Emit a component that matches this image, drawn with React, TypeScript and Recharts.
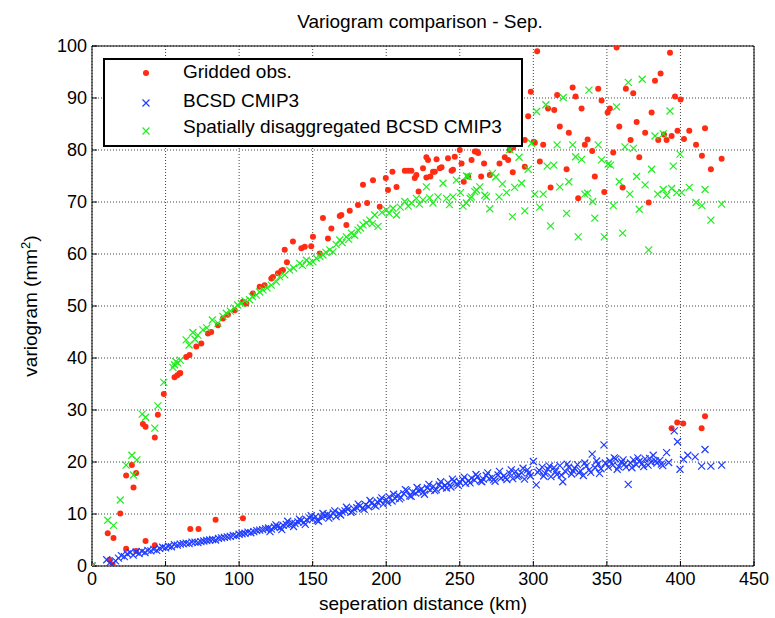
import React from "react";
import { ScatterChart, Scatter, XAxis, YAxis, CartesianGrid, Legend, Label } from "recharts";

const title = "Variogram comparison - Sep.";
const xLabel = "seperation distance (km)";
const yLabel = "variogram (mm";
const xTicks = [0, 50, 100, 150, 200, 250, 300, 350, 400, 450];
const yTicks = [0, 10, 20, 30, 40, 50, 60, 70, 80, 90, 100];
const seriesNames = ["Gridded obs.", "BCSD CMIP3", "Spatially disaggregated BCSD CMIP3"];

const obsPoints: number[][] = [
  [0, 0], [10.7, 6.3], [11.9, 1.2], [14, 0.3], [14.6, 5.4], [19.2, 10.1], [23.2, 17.4], [23.2, 3.3], [27.1, 19.4], [28.2, 15.1],
  [30, 17.9], [30, 2.9], [34.6, 27.3], [36.4, 26.8], [36.4, 4.8], [42.7, 24.7], [42.7, 4.0], [44.8, 29.1], [48.8, 33.1], [56.1, 36.3],
  [58, 36.7], [59.5, 37], [60, 37.1], [64, 40.2], [66.3, 40.6], [66.8, 7.1], [70.9, 42.2], [72.4, 7.1], [74.3, 42.8], [78.8, 44.7],
  [81, 45], [84, 8.9], [85.6, 46.3], [89, 47.6], [92.4, 48.3], [97, 49.2], [102.6, 50.8], [102.6, 9.2], [104.9, 50.5], [109.4, 52.4],
  [114, 53.7], [117.3, 54], [121.9, 55.3], [123, 55.6], [126.4, 56.3], [128.7, 56.8], [129.8, 56.9], [131, 60.8], [132.5, 58.4], [136.6, 62.4],
  [142.3, 61.1], [144.6, 61.4], [149, 61.5], [150.2, 63.3], [154.8, 60.1], [157, 66.9], [160.4, 63], [162.7, 64.9], [168.4, 67.3], [169.5, 67.5],
  [172.9, 65.6], [175.2, 68.3], [180.8, 69.4], [184.2, 73.3], [187, 69.8], [191, 74.2], [195.6, 69.1], [199.7, 74.6], [201.2, 72.3], [204.2, 75.8],
  [207, 72.9], [212.6, 76], [214.9, 76], [217.1, 76], [219.4, 74.6], [220.5, 75.2], [222, 72], [225, 76.5], [227.3, 74.7], [227.3, 78.6],
  [228.4, 78.1], [230, 74.9], [231.8, 75.8], [233, 75.8], [234.2, 78.2], [236.4, 76.5], [237.6, 76.7], [242, 78.4], [244.4, 76], [245.4, 76.2],
  [246.6, 78.7], [250, 80], [251.2, 77.4], [252.7, 73.9], [255.7, 74.9], [258, 78.1], [260.2, 79.7], [261.4, 79.7], [262.5, 79.4], [264.5, 74.9],
  [266.5, 77.4], [270.4, 75.2], [277, 77.4], [280.6, 78.6], [282.9, 78.1], [284, 80], [286, 75.7], [286.2, 80.5], [294.2, 81.9], [294.2, 76.8],
  [296.5, 86.5], [298.3, 91.2], [300.3, 81.6], [301, 81.4], [302.6, 99], [304.4, 77.8], [306.7, 81], [310, 88], [311.7, 72.8], [314.2, 87.7],
  [316.2, 90.6], [318, 84.5], [322.6, 76.3], [324.1, 83.3], [326.7, 92], [328.7, 90.3], [330.5, 70.7], [332.8, 88], [335, 81], [336.9, 82],
  [340, 79.8], [341.8, 74.9], [344.1, 91.8], [346.4, 89.5], [348.2, 71.9], [350.5, 87.2], [352, 88], [354.3, 79.5], [356.6, 99.7], [358.4, 84.5],
  [360.7, 72.8], [362.9, 91.8], [366.1, 81.9], [367.9, 90.9], [370.2, 85.4], [372, 78.6], [376, 83.3], [378.4, 69.9], [380.4, 87.2], [382.7, 93.3],
  [384.9, 81.9], [386.5, 94.7], [388.8, 83], [390.6, 81.9], [392.9, 98.7], [394, 82.7], [394, 26.5], [396.3, 90.3], [397.8, 27.6], [398, 83.7],
  [400.1, 89.7], [401.9, 27.4], [402.4, 82.1], [406, 83.7], [410.6, 81], [414.4, 26.5], [414.6, 78.9], [416.7, 84.2], [416.7, 28.8], [420.7, 76.3],
  [428, 78.3],
];

const bcsdPoints: number[][] = [
  [0, 0], [10, 1.2], [12, 0.6], [14, 0.3], [16, 1.0], [18, 1.5], [20, 2.0], [22, 1.8], [24, 2.3], [26, 2.6],
  [28, 2.1], [30, 2.7], [32, 2.4], [34, 2.8], [36, 2.6], [38, 3.0], [40, 2.9], [42, 3.2], [44, 3.0], [46, 3.4],
  [48, 3.6], [50, 3.5], [52, 3.8], [54, 3.7], [56, 4.1], [58, 4.0], [60, 4.2], [62, 4.3], [64, 4.4], [66, 4.3],
  [68, 4.6], [70, 4.6], [72, 4.5], [74, 4.7], [76, 4.8], [78, 4.9], [80, 5.0], [82, 5.1], [84, 5.0], [86, 5.3],
  [88, 5.4], [90, 5.5], [92, 5.6], [94, 5.7], [96, 5.9], [98, 5.8], [100, 6.1], [102, 6.2], [104, 6.3], [106, 6.5],
  [108, 6.4], [110, 6.6], [112, 6.8], [114, 6.9], [116, 7.0], [118, 7.2], [120, 7.3], [122, 7.1], [124, 7.5], [126, 7.6],
  [128, 7.4], [130, 7.8], [132, 8.0], [134, 7.9], [136, 8.3], [138, 8.2], [140, 8.5], [142, 8.7], [144, 8.4], [146, 8.9],
  [148, 9.2], [150, 9.0], [152, 9.5], [154, 8.6], [156, 9.4], [158, 9.6], [160, 9.9], [162, 9.7], [164, 10.2], [166, 9.5],
  [168, 10.1], [170, 10.4], [172, 10.6], [174, 10.9], [176, 10.3], [178, 11.0], [180, 11.2], [182, 11.5], [184, 11.1], [186, 11.8],
  [188, 11.4], [190, 12.1], [192, 11.7], [194, 12.3], [196, 12.6], [198, 11.9], [200, 12.8], [202, 13.3], [204, 12.5], [206, 13.0],
  [208, 13.6], [210, 13.2], [212, 13.9], [214, 14.5], [216, 13.5], [218, 14.2], [220, 14.0], [222, 14.4], [224, 14.8], [226, 13.8],
  [228, 15.0], [230, 14.6], [232, 15.3], [234, 14.7], [236, 15.6], [238, 15.1], [240, 15.5], [242, 16.0], [244, 15.2], [246, 16.3],
  [248, 15.8], [250, 16.1], [252, 16.6], [254, 15.9], [256, 16.4], [258, 16.9], [260, 16.5], [262, 17.2], [264, 16.4], [266, 16.7],
  [268, 17.4], [270, 16.8], [272, 17.0], [274, 16.3], [276, 17.5], [278, 16.9], [280, 17.3], [282, 16.6], [284, 17.8], [286, 16.8],
  [288, 18.2], [290, 17.4], [292, 17.9], [294, 16.7], [296, 18.5], [298, 17.3], [300, 20.1], [302, 15.6], [304, 18.4], [306, 19.0],
  [308, 17.8], [310, 18.6], [312, 17.2], [314, 18.9], [316, 17.6], [318, 19.3], [320, 16.2], [322, 18.1], [324, 19.0], [326, 17.7],
  [328, 18.8], [330, 19.5], [332, 18.3], [334, 17.4], [336, 19.2], [338, 18.5], [340, 21.5], [342, 18.9], [344, 19.6], [346, 18.7],
  [348, 23.3], [349, 19.8], [352, 20.2], [354, 19.4], [356, 20.6], [358, 19.1], [360, 20.0], [362, 19.6], [364.5, 15.7], [366, 19.8],
  [368, 20.4], [370, 19.5], [372, 20.1], [374, 19.7], [376, 20.6], [378, 19.4], [380, 20.0], [381.5, 21.3], [384, 19.8], [386, 20.3],
  [388, 19.3], [390.6, 21.8], [392, 19.9], [395.8, 26], [398, 23.9], [399.7, 18.6], [402, 20.5], [405, 21.3], [410, 21.0], [414.4, 19.2],
  [416.7, 22.4], [420.7, 19.2], [428, 19.4],
];

const bcsdExtraPoints: number[][] = [
  [121, 6.6], [125, 7.9], [129, 7.0], [133, 8.6], [137, 7.6], [141, 9.0], [145, 8.0], [149, 9.7], [153, 8.8], [157, 10.1],
  [161, 9.2], [165, 10.6], [169, 9.8], [173, 11.3], [177, 10.5], [181, 11.9], [185, 10.9], [189, 12.6], [193, 11.5], [197, 13.1],
  [201, 12.2], [205, 13.8], [209, 12.9], [213, 14.7], [217, 13.4], [221, 15.1], [225, 14.2], [229, 15.7], [233, 14.5], [237, 16.2],
  [241, 15.0], [245, 16.7], [249, 15.5], [253, 17.1], [257, 16.0], [261, 17.6], [265, 16.2], [269, 17.9], [273, 16.6], [277, 18.2],
  [281, 17.0], [285, 18.5], [289, 17.2], [293, 18.8], [297, 17.9], [303, 18.0], [307, 17.3], [311, 19.2], [315, 18.2], [319, 17.5],
  [323, 19.6], [327, 18.3], [331, 17.9], [335, 19.8], [339, 18.0], [343, 20.2], [345, 17.8], [351, 19.0], [355, 20.8], [357, 18.6],
  [361, 20.4], [363, 19.0], [367, 18.9], [371, 20.8], [375, 19.1], [379, 20.7], [383, 20.2], [387, 19.6],
];

const sdPoints: number[][] = [
  [0, 0], [10.7, 8.8], [14.6, 7.8], [19.2, 12.7], [23.2, 19.4], [27.1, 21.3], [28.2, 17.5], [30.5, 20.4], [34.1, 29.2], [36.4, 28.6],
  [42.7, 26.5], [44.8, 30.8], [48.8, 35.3], [55, 38.2], [56.1, 38.7], [57, 39.3], [58.4, 39], [60, 39.6], [64, 43.5], [66, 42.5],
  [68.6, 44.9], [70, 43.6], [72, 44.4], [75.4, 45.4], [78, 45.8], [81.8, 47.3], [85.6, 46.7], [89, 48], [91.3, 48.6], [94, 49],
  [97, 49.6], [99, 50.2], [101.5, 50.5], [104, 51], [107.1, 51.2], [109, 51.8], [111.7, 52.1], [114, 52.7], [116.2, 53.1], [119, 53.5],
  [121.9, 54], [125.3, 54.7], [127.6, 55.6], [131, 56], [134.4, 56.9], [137, 57.3], [141.2, 58.2], [143, 57.8], [145.7, 58.8], [148, 58.3],
  [150.2, 58.5], [152.5, 59.2], [155, 59.5], [157, 59.8], [159, 60.3], [161.6, 60.8], [163.8, 60.4], [166, 61.8], [168.4, 62.7], [170, 62.2],
  [172.9, 63.3], [174.5, 62.8], [176.3, 64], [178.5, 63.6], [180.8, 64.6], [182.5, 65], [184.2, 65.6], [186.5, 66], [188.8, 66.5], [190.5, 65.8],
  [192.2, 67.5], [194.4, 65.3], [197, 68], [200.1, 68.5], [202, 67.8], [204.6, 68.8], [207, 67.5], [209.5, 69], [212.6, 70.1], [215, 69.2],
  [217.1, 69.8], [220.5, 70.7], [222.5, 69.6], [225, 70.4], [227.3, 72.9], [229.5, 70.8], [231.8, 69.8], [235.2, 71], [238.6, 73.6], [241, 70.7],
  [243, 69.5], [245.4, 71], [247.7, 74.2], [250.5, 71.8], [252.2, 69.2], [254.5, 69.8], [254.6, 75], [255.7, 74.9], [257, 70.7], [258, 71],
  [260.2, 72], [261.4, 72.3], [263.6, 72.9], [267, 71.3], [268.2, 71], [270.4, 68.7], [272.2, 75.5], [274.5, 74.8], [276.7, 71], [279, 73.5],
  [281.8, 71.8], [284, 80.1], [285.8, 67.2], [287.3, 72.8], [290.3, 78.6], [292, 73.6], [294.2, 68.3], [296.5, 76.3], [298.8, 81.3], [301, 71.5],
  [302.2, 87.4], [304.4, 69], [306.7, 71.5], [308.5, 88.7], [309.4, 76.9], [311.7, 65.4], [313.9, 77.1], [316.2, 81], [318, 72.9], [320.3, 90.1],
  [322.6, 67.8], [324.1, 73.9], [326.7, 81], [328.7, 78.7], [330.5, 63.3], [332.8, 78.2], [335, 71.5], [336.9, 71.7], [337.8, 91.5], [340.3, 70.1],
  [341.8, 66.9], [344.1, 81], [346.4, 78.1], [348.2, 63.3], [350.9, 77.3], [352.5, 77.1], [354.3, 69.3], [356.6, 88.3], [358.4, 73.9], [360.7, 64],
  [362.3, 80.6], [364.5, 93], [365.6, 71.5], [368, 80.3], [370.2, 74.9], [372, 68.6], [374, 93.6], [376, 73.3], [378.4, 60.8], [380.4, 76.3],
  [382.7, 82.7], [384.5, 71.5], [388.3, 83.1], [388.3, 72.4], [390.6, 71.3], [392.9, 87.5], [394, 72.6], [395.1, 76.9], [397.4, 71.8], [399.7, 79.2],
  [400.8, 71.8], [406, 72.8], [410.6, 69.9], [414.6, 69.3], [416.7, 72.4], [420.7, 66.5], [428, 69.6],
];

const RED = "#ff2b12";
const BLUE = "#1f3cff";
const GREEN = "#1fee1f";
const FONT = "'Liberation Sans', Arial, Helvetica, sans-serif";

const toObjs = (pts: number[][]) => pts.map(([x, y]) => ({ x, y }));
const obsData = toObjs(obsPoints);
const bcsdData = toObjs([...bcsdPoints, ...bcsdExtraPoints]);
const sdData = toObjs(sdPoints);

const dot = (props: any) => <circle cx={props.cx} cy={props.cy} r={3} fill={RED} />;
const cross = (color: string) => (props: any) => {
  const { cx, cy } = props;
  const s = 3.5;
  return (
    <path
      d={`M${cx - s},${cy - s}L${cx + s},${cy + s}M${cx - s},${cy + s}L${cx + s},${cy - s}`}
      stroke={color}
      strokeWidth={1.2}
      fill="none"
    />
  );
};

const LegendBox = () => (
  <div style={{ width: 420, height: 89, border: "2px solid #000", boxSizing: "border-box", background: "#fff" }}>
    <svg width={416} height={85} style={{ display: "block", fontFamily: FONT }}>
      <circle cx={41} cy={13} r={3} fill={RED} />
      <path d="M37.5,39.5L44.5,46.5M37.5,46.5L44.5,39.5" stroke={BLUE} strokeWidth={1.2} />
      <path d="M37.5,67.5L44.5,74.5M37.5,74.5L44.5,67.5" stroke={GREEN} strokeWidth={1.2} />
      <text x={78} y={17.5} fontSize={19} fill="#000">{seriesNames[0]}</text>
      <text x={78} y={47} fontSize={19} fill="#000">{seriesNames[1]}</text>
      <text x={78} y={73} fontSize={19} fill="#000">{seriesNames[2]}</text>
    </svg>
  </div>
);

export default function App() {
  const tickStyle = { fontSize: 18, fill: "#000", fontFamily: FONT };
  return (
    <div style={{ position: "absolute", left: 0, top: 0, width: 775, height: 618, background: "#fff", fontFamily: FONT }}>
      <ScatterChart width={775} height={618} margin={{ top: 45, right: 20, bottom: 0, left: 0 }}>
        <CartesianGrid stroke="#444" strokeDasharray="1 2" />
        <XAxis
          xAxisId={0}
          dataKey="x"
          type="number"
          domain={[0, 450]}
          ticks={xTicks}
          height={52}
          tickSize={-5}
          tickMargin={11}
          tick={tickStyle}
          stroke="#000"
          interval={0}
          allowDataOverflow
        >
          <Label
            content={() => (
              <text x={423} y={610} textAnchor="middle" fontSize={19} fontFamily={FONT} fill="#000">
                {xLabel}
              </text>
            )}
          />
        </XAxis>
        <XAxis
          xAxisId="top"
          orientation="top"
          type="number"
          domain={[0, 450]}
          ticks={xTicks}
          height={1}
          tickSize={-5}
          tick={false}
          stroke="#000"
          interval={0}
        >
          <Label
            content={() => (
              <text x={420} y={28} textAnchor="middle" fontSize={19} fontFamily={FONT} fill="#000">
                {title}
              </text>
            )}
          />
        </XAxis>
        <YAxis
          yAxisId={0}
          dataKey="y"
          type="number"
          domain={[0, 100]}
          ticks={yTicks}
          width={92}
          tickSize={-5}
          tickMargin={10}
          tick={tickStyle}
          stroke="#000"
          interval={0}
          allowDataOverflow
        >
          <Label
            content={() => (
              <text x={37} y={306} transform="rotate(-90, 37, 306)" textAnchor="middle" fontSize={19} fontFamily={FONT} fill="#000">
                {yLabel}
                <tspan dy={-7} fontSize={13}>2</tspan>
                <tspan dy={7}>)</tspan>
              </text>
            )}
          />
        </YAxis>
        <YAxis
          yAxisId="right"
          orientation="right"
          type="number"
          domain={[0, 100]}
          ticks={yTicks}
          width={1}
          tickSize={-5}
          tick={false}
          stroke="#000"
          interval={0}
        />
        <Legend
          layout="horizontal"
          verticalAlign="middle"
          align="center"
          content={() => <LegendBox />}
          wrapperStyle={{ left: 103, top: 58, width: 420, height: 89 }}
        />
        <Scatter name={seriesNames[0]} data={obsData} shape={dot} isAnimationActive={false} />
        <Scatter name={seriesNames[1]} data={bcsdData} shape={cross(BLUE)} isAnimationActive={false} />
        <Scatter name={seriesNames[2]} data={sdData} shape={cross(GREEN)} isAnimationActive={false} />
      </ScatterChart>
    </div>
  );
}
